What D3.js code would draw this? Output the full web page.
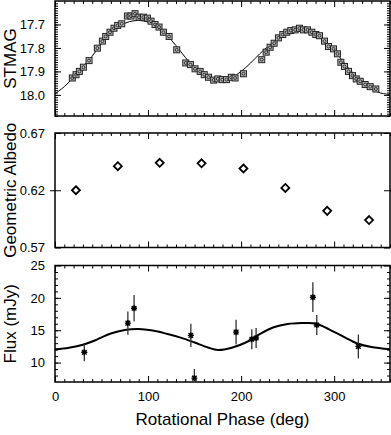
<!DOCTYPE html>
<html>
<head>
<meta charset="utf-8">
<script src="https://cdn.jsdelivr.net/npm/d3@7"></script>
<style>
  body { margin: 0; background: #fff; }
  svg { display: block; font-family: "Liberation Sans", Arial, sans-serif; }
</style>
</head>
<body>
<div id="chart"></div>
<script>
// Light curve (STMAG) observations
const lcPhase = [18.6, 22.6, 26.2, 30.5, 36.6, 45.5, 50.9, 54.5, 59.1, 63.4, 67.4, 71.7,
  77.8, 81.7, 86, 90.3, 95, 99.3, 103.2, 107.5, 111.8, 116.5, 122.6, 130.8, 140.5, 145.5,
  150.5, 156, 160.4, 165, 170.5, 175, 179.8, 184.3, 189.5, 193.5, 202.5, 222.2, 226.9,
  231.2, 235.5, 240.1, 244.8, 249.1, 253.4, 258.1, 262.7, 267, 271.3, 276, 280.3, 284.2,
  289.6, 293.9, 299.3, 303.5, 307.2, 311.1, 315.4, 319.7, 323.7, 328, 333.3, 338.7, 344.8];
const lcMag = [17.928, 17.914, 17.900, 17.882, 17.854, 17.801, 17.771, 17.751, 17.733, 17.716,
  17.704, 17.697, 17.664, 17.664, 17.654, 17.669, 17.669, 17.673, 17.686, 17.700, 17.711,
  17.733, 17.751, 17.808, 17.864, 17.871, 17.889, 17.900, 17.914, 17.925, 17.937, 17.932,
  17.935, 17.935, 17.925, 17.928, 17.910, 17.850, 17.818, 17.797, 17.780, 17.757, 17.743,
  17.733, 17.726, 17.723, 17.716, 17.723, 17.723, 17.733, 17.743, 17.748, 17.771, 17.794,
  17.804, 17.825, 17.861, 17.879, 17.900, 17.918, 17.932, 17.942, 17.956, 17.965, 17.975];

// Light curve model
const lcModelPhase = [0, 10, 20, 30, 40, 50, 60, 70, 80, 90, 100, 110, 120, 130, 140, 150,
  160, 170, 180, 190, 200, 210, 220, 230, 240, 250, 260, 270, 280, 290, 300, 310, 320, 330,
  340, 350, 360];
const lcModelMag = [17.995, 17.965, 17.925, 17.880, 17.835, 17.780, 17.735, 17.705, 17.688,
  17.683, 17.690, 17.710, 17.745, 17.790, 17.840, 17.885, 17.915, 17.932, 17.935, 17.925,
  17.900, 17.865, 17.825, 17.790, 17.760, 17.740, 17.730, 17.732, 17.745, 17.770, 17.810,
  17.860, 17.905, 17.945, 17.975, 17.992, 17.998];

// Geometric albedo
const albPhase = [22.5, 67.5, 112.5, 157.5, 202.5, 247.5, 292.5, 337.5];
const albValue = [0.620, 0.641, 0.644, 0.6435, 0.639, 0.622, 0.602, 0.594];

// Flux with errors
const fluxPhase = [31.5, 78.3, 85, 146, 149.8, 194.6, 211.5, 216.1, 277.1, 281.3, 326];
const fluxValue = [11.6, 16.1, 18.4, 14.2, 7.6, 14.7, 13.6, 13.8, 20.1, 15.8, 12.5];
const fluxErr = [1.4, 1.8, 2.05, 1.8, 1.4, 1.9, 1.55, 1.55, 2.3, 1.55, 1.85];

// Flux model
const fluxModelPhase = [0, 15, 30, 45, 60, 75, 90, 105, 120, 135, 150, 165, 175, 190, 205,
  220, 235, 250, 265, 280, 295, 310, 325, 340, 360];
const fluxModelValue = [12.05, 12.3, 12.75, 13.55, 14.5, 15.05, 15.2, 14.95, 14.45, 13.85,
  13.1, 12.3, 11.95, 12.3, 13.1, 14.4, 15.45, 15.95, 16.1, 16.05, 15.1, 14.0, 12.95, 12.4, 12.05];

const xTicks = [0, 100, 200, 300];

const W = 391, H = 435;
const left = 55, right = 390;

const svg = d3.select("#chart").append("svg").attr("width", W).attr("height", H);

const x = d3.scaleLinear().domain([0, 360]).range([left, right]);

const panels = [
  { top: 1, bottom: 116, domain: [18.09, 17.6], major: [17.7, 17.8, 17.9, 18.0],
    minor: d3.range(17.61, 18.09, 0.01), fmt: d3.format(".1f"), title: "STMAG" },
  { top: 133, bottom: 247.5, domain: [0.57, 0.67], major: [0.57, 0.62, 0.67],
    minor: [], fmt: d3.format(".2f"), title: "Geometric Albedo" },
  { top: 265.5, bottom: 382, domain: [7, 25], major: [10, 15, 20, 25],
    minor: d3.range(8, 25, 1), fmt: d3.format("d"), title: "Flux (mJy)" }
];

panels.forEach((p, i) => {
  p.y = d3.scaleLinear().domain(p.domain).range([p.bottom, p.top]);
  const g = svg.append("g");
  p.g = g;

  const clipId = "clip" + i;
  svg.append("clipPath").attr("id", clipId)
    .append("rect").attr("x", left).attr("y", p.top)
    .attr("width", right - left).attr("height", p.bottom - p.top);
  p.clip = `url(#${clipId})`;

  // x ticks (inward) bottom and top
  const minorX = d3.range(0, 361, 10).filter(d => d % 100 !== 0);
  g.append("g").attr("transform", `translate(0,${p.bottom})`)
    .call(d3.axisBottom(x).tickValues(xTicks).tickSize(-6).tickPadding(10)
      .tickFormat(i === 2 ? d3.format("d") : ""));
  g.append("g").attr("transform", `translate(0,${p.bottom})`)
    .call(d3.axisBottom(x).tickValues(minorX).tickSize(-3).tickFormat(""));
  g.append("g").attr("transform", `translate(0,${p.top})`)
    .call(d3.axisTop(x).tickValues(xTicks).tickSize(-6).tickFormat(""));
  g.append("g").attr("transform", `translate(0,${p.top})`)
    .call(d3.axisTop(x).tickValues(minorX).tickSize(-3).tickFormat(""));

  // y ticks (inward) left and right
  g.append("g").attr("transform", `translate(${left},0)`)
    .call(d3.axisLeft(p.y).tickValues(p.major).tickSize(-6).tickPadding(10).tickFormat(p.fmt));
  g.append("g").attr("transform", `translate(${left},0)`)
    .call(d3.axisLeft(p.y).tickValues(p.minor).tickSize(-3).tickFormat(""));
  g.append("g").attr("transform", `translate(${right},0)`)
    .call(d3.axisRight(p.y).tickValues(p.major).tickSize(-6).tickFormat(""));
  g.append("g").attr("transform", `translate(${right},0)`)
    .call(d3.axisRight(p.y).tickValues(p.minor).tickSize(-3).tickFormat(""));

  g.selectAll(".domain").remove();
  g.selectAll(".tick line").attr("stroke", "#000").attr("stroke-width", 1);
  g.selectAll(".tick text").attr("fill", "#000").style("font-size", "13px");

  // frame
  g.append("rect").attr("x", left).attr("y", p.top)
    .attr("width", right - left).attr("height", p.bottom - p.top)
    .attr("fill", "none").attr("stroke", "#000").attr("stroke-width", 1.5);

  // y title
  g.append("text")
    .attr("transform", `translate(16,${(p.top + p.bottom) / 2}) rotate(-90)`)
    .attr("text-anchor", "middle")
    .style("font-size", "17px")
    .text(p.title);
});

// outward part of the 0.62 tick
panels[1].g.append("g").attr("transform", `translate(${left},0)`)
  .call(d3.axisLeft(panels[1].y).tickValues([0.62]).tickSize(5).tickFormat(""))
  .call(a => a.select(".domain").remove());
panels[1].g.append("g").attr("transform", `translate(${right},0)`)
  .call(d3.axisRight(panels[1].y).tickValues([0.62]).tickSize(5).tickFormat(""))
  .call(a => a.select(".domain").remove());

// x title
svg.append("text")
  .attr("x", (left + right) / 2).attr("y", 425)
  .attr("text-anchor", "middle")
  .style("font-size", "17px")
  .text("Rotational Phase (deg)");

// Panel 1: light curve
const p1 = panels[0];
const lc = lcPhase.map((d, i) => ({ ph: d, v: lcMag[i] }));
const lcModel = lcModelPhase.map((d, i) => ({ ph: d, v: lcModelMag[i] }));
p1.g.append("path")
  .datum(lcModel)
  .attr("clip-path", p1.clip)
  .attr("fill", "none").attr("stroke", "#000").attr("stroke-width", 1)
  .attr("d", d3.line().x(d => x(d.ph)).y(d => p1.y(d.v)).curve(d3.curveCatmullRom));
const sq = p1.g.append("g").selectAll("g").data(lc).join("g")
  .attr("transform", d => `translate(${x(d.ph)},${p1.y(d.v)})`);
sq.append("rect").attr("x", -3).attr("y", -3).attr("width", 6).attr("height", 6)
  .attr("fill", "#b8b8b8").attr("stroke", "#222").attr("stroke-width", 1);
sq.append("circle").attr("r", 1.5).attr("fill", "none").attr("stroke", "#222").attr("stroke-width", 0.9);

// Panel 2: albedo diamonds
const p2 = panels[1];
const alb = albPhase.map((d, i) => ({ ph: d, v: albValue[i] }));
p2.g.append("g").selectAll("path").data(alb).join("path")
  .attr("transform", d => `translate(${x(d.ph)},${p2.y(d.v)})`)
  .attr("d", "M0,-4L4,0L0,4L-4,0Z")
  .attr("fill", "#fff").attr("stroke", "#000").attr("stroke-width", 1.8);

// Panel 3: flux
const p3 = panels[2];
const flux = fluxPhase.map((d, i) => ({ ph: d, v: fluxValue[i], e: fluxErr[i] }));
const fluxModel = fluxModelPhase.map((d, i) => ({ ph: d, v: fluxModelValue[i] }));
p3.g.append("path")
  .datum(fluxModel)
  .attr("clip-path", p3.clip)
  .attr("fill", "none").attr("stroke", "#000").attr("stroke-width", 2)
  .attr("d", d3.line().x(d => x(d.ph)).y(d => p3.y(d.v)).curve(d3.curveCatmullRom));
const fg = p3.g.append("g").attr("clip-path", p3.clip);
fg.selectAll("line.err").data(flux).join("line").attr("class", "err")
  .attr("x1", d => x(d.ph)).attr("x2", d => x(d.ph))
  .attr("y1", d => p3.y(d.v - d.e)).attr("y2", d => p3.y(d.v + d.e))
  .attr("stroke", "#333").attr("stroke-width", 1.3);
const star = fg.selectAll("g.star").data(flux).join("g").attr("class", "star")
  .attr("transform", d => `translate(${x(d.ph)},${p3.y(d.v)})`);
star.append("path")
  .attr("d", "M-3,0L3,0M0,-3L0,3M-2.3,-2.3L2.3,2.3M-2.3,2.3L2.3,-2.3")
  .attr("stroke", "#000").attr("stroke-width", 1.4);
</script>
</body>
</html>
